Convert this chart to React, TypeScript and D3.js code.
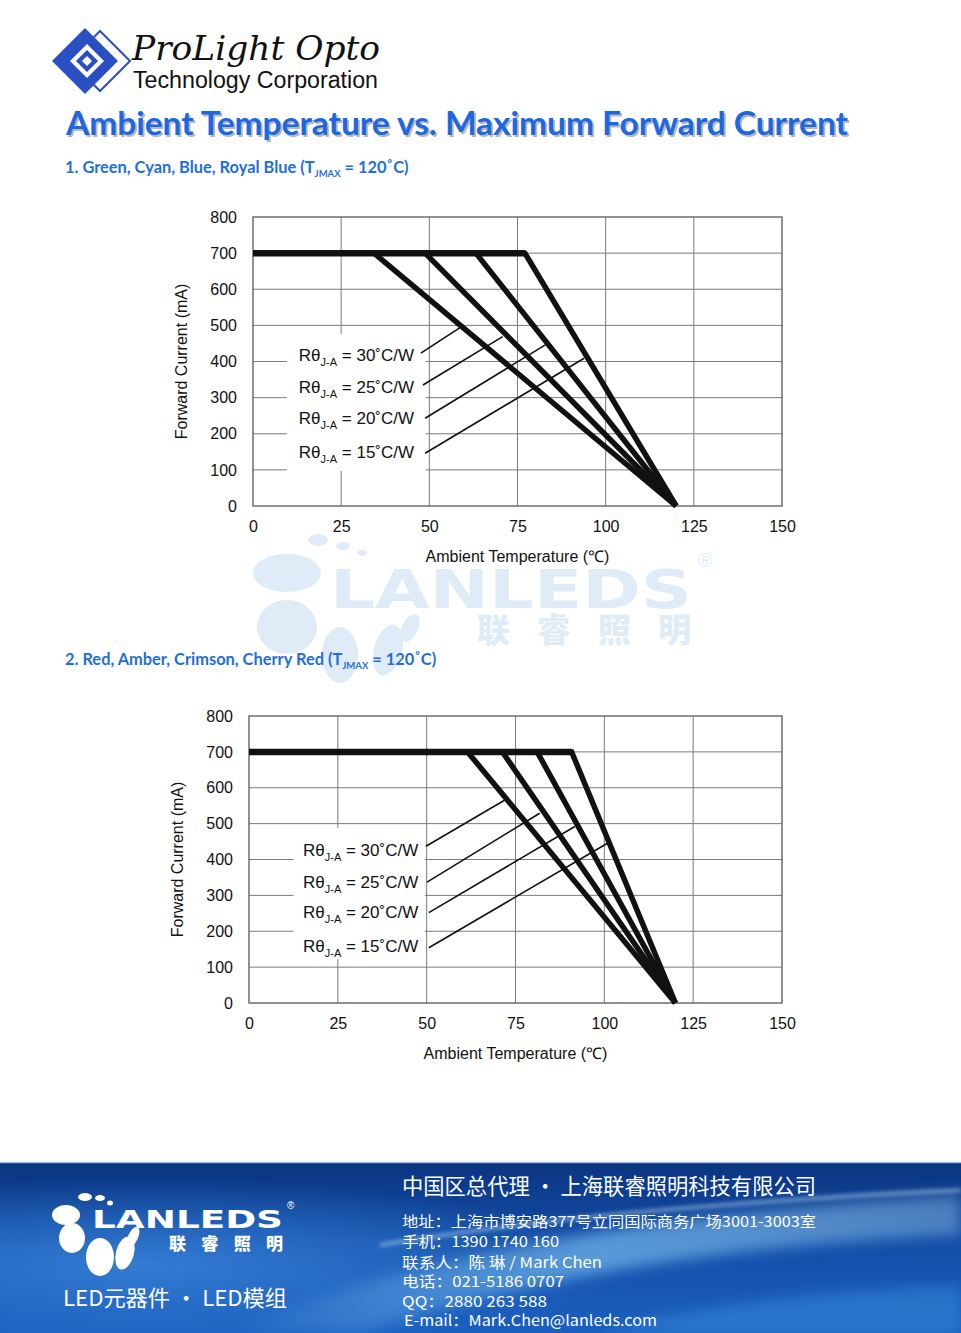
import { useEffect, useRef } from 'react';
import * as d3 from 'd3';

const xTicks = [0, 25, 50, 75, 100, 125, 150];
const yTicks = [0, 100, 200, 300, 400, 500, 600, 700, 800];
const maxCurrent = 700; // mA
const tjMax = 120; // °C, current reaches 0 here
const rthLabels = ['30', '25', '20', '15'];

// temperature (°C) where each Rθ curve leaves the 700 mA plateau
const kneesBlue = [34.3, 48.8, 63.2, 77.1];
const kneesRed = [61.5, 71.3, 81.1, 90.8];

// label centre heights (mA) and leader lines [x1, y1, x2, y2] in data units
const labelYBlue = [418, 330, 244, 150];
const labelYRed = [427, 336, 254, 159];
const leadersBlue = [
  [47.6, 423, 58.6, 493],
  [48.2, 335, 70.8, 469],
  [48.8, 243, 82.9, 446],
  [48.8, 146, 93.9, 409],
];
const leadersRed = [
  [49.8, 437, 71.9, 565],
  [50.1, 337, 81.8, 529],
  [50.6, 252, 91.7, 492],
  [50.6, 154, 101, 446],
];

const FONT = "'Liberation Sans', Arial, sans-serif";
const CJK = "'Noto Sans CJK SC', sans-serif";

type ChartCfg = {
  left: number; right: number; top: number; bottom: number;
  knees: number[]; labelY: number[]; leaders: number[][];
  labelX: number; box: number[]; // box = [x0, x1, y0, y1]
};

function drawChart(node: SVGGElement, cfg: ChartCfg) {
  const g = d3.select(node);
  g.selectAll('*').remove();

  const x = d3.scaleLinear().domain([0, 150]).range([cfg.left, cfg.right]);
  const y = d3.scaleLinear().domain([0, 800]).range([cfg.bottom, cfg.top]);

  // grid
  g.append('g').selectAll('line').data(xTicks.slice(1, -1)).join('line')
    .attr('x1', d => x(d)).attr('x2', d => x(d))
    .attr('y1', y(0)).attr('y2', y(800))
    .attr('stroke', '#7a7a7a').attr('stroke-width', 1);
  g.append('g').selectAll('line').data(yTicks.slice(1, -1)).join('line')
    .attr('x1', x(0)).attr('x2', x(150))
    .attr('y1', d => y(d)).attr('y2', d => y(d))
    .attr('stroke', '#7a7a7a').attr('stroke-width', 1);

  // white patch behind the Rθ labels
  g.append('rect')
    .attr('x', x(cfg.box[0])).attr('y', y(cfg.box[3]))
    .attr('width', x(cfg.box[1]) - x(cfg.box[0]))
    .attr('height', y(cfg.box[2]) - y(cfg.box[3]))
    .attr('fill', '#fff');

  // frame
  g.append('rect')
    .attr('x', x(0)).attr('y', y(800))
    .attr('width', x(150) - x(0)).attr('height', y(0) - y(800))
    .attr('fill', 'none').attr('stroke', '#6e6e6e').attr('stroke-width', 1.5);

  // axes
  const ax = g.append('g').attr('transform', `translate(${x(0)},0)`)
    .call(d3.axisLeft(y).tickValues(yTicks).tickSize(0).tickPadding(16));
  ax.select('.domain').remove();
  ax.attr('font-family', FONT).attr('font-size', 16);
  ax.selectAll('text').attr('fill', '#111');

  const bx = g.append('g').attr('transform', `translate(0,${y(0)})`)
    .call(d3.axisBottom(x).tickValues(xTicks).tickSize(0).tickPadding(15));
  bx.select('.domain').remove();
  bx.attr('font-family', FONT).attr('font-size', 16);
  bx.selectAll('text').attr('fill', '#111');

  g.append('text')
    .attr('transform', `translate(${x(0) - 66},${(y(0) + y(800)) / 2}) rotate(-90)`)
    .attr('text-anchor', 'middle')
    .attr('font-family', FONT).attr('font-size', 16).attr('fill', '#111')
    .text('Forward Current (mA)');

  g.append('text')
    .attr('x', (x(0) + x(150)) / 2).attr('y', y(0) + 56)
    .attr('text-anchor', 'middle')
    .attr('font-family', FONT).attr('font-size', 16).attr('fill', '#111')
    .text('Ambient Temperature (℃)');

  // derating curves
  const line = d3.line<number[]>().x(d => x(d[0])).y(d => y(d[1]));
  g.append('g').selectAll('path').data(cfg.knees).join('path')
    .attr('d', k => line([[0, maxCurrent], [k, maxCurrent], [tjMax, 0]]))
    .attr('fill', 'none').attr('stroke', '#111').attr('stroke-width', 5.5)
    .attr('stroke-linejoin', 'miter');
  g.append('line')
    .attr('x1', x(0)).attr('x2', x(d3.max(cfg.knees)!))
    .attr('y1', y(maxCurrent)).attr('y2', y(maxCurrent))
    .attr('stroke', '#111').attr('stroke-width', 6.5);

  // leader lines
  g.append('g').selectAll('line').data(cfg.leaders).join('line')
    .attr('x1', d => x(d[0])).attr('y1', d => y(d[1]))
    .attr('x2', d => x(d[2])).attr('y2', d => y(d[3]))
    .attr('stroke', '#111').attr('stroke-width', 1.6);

  // labels
  const lab = g.append('g').selectAll('text').data(rthLabels).join('text')
    .attr('x', x(cfg.labelX))
    .attr('y', (_, i) => y(cfg.labelY[i]) + 6)
    .attr('font-family', FONT).attr('font-size', 17).attr('fill', '#111');
  lab.append('tspan').text('Rθ');
  lab.append('tspan').attr('font-size', 11).attr('dy', 5).text('J-A');
  lab.append('tspan').attr('dy', -5).text(d => ` = ${d}˚C/W`);
}

function Subtitle({ y, text }: { y: number; text: string }) {
  return (
    <text x={65} y={y} fontFamily="Lato, 'Open Sans', sans-serif" fontWeight={700}
      fontSize={16.4} fill="#1f6fd6">
      {text}
      <tspan fontSize={9.5} dy={4}>JMAX</tspan>
      <tspan dy={-4}> = 120˚C)</tspan>
    </text>
  );
}

export default function App() {
  const c1 = useRef<SVGGElement>(null);
  const c2 = useRef<SVGGElement>(null);

  useEffect(() => {
    if (c1.current) drawChart(c1.current, {
      left: 253, right: 782, top: 217, bottom: 506,
      knees: kneesBlue, labelY: labelYBlue, leaders: leadersBlue,
      labelX: 13, box: [9.6, 49, 97, 476],
    });
    if (c2.current) drawChart(c2.current, {
      left: 249, right: 782, top: 716, bottom: 1003,
      knees: kneesRed, labelY: labelYRed, leaders: leadersRed,
      labelX: 15.2, box: [12.5, 49.5, 122, 488],
    });
  }, []);

  const wm = '#dfecf8';

  return (
    <svg width={961} height={1333} style={{ position: 'absolute', left: 0, top: 0 }}>
      <defs>
        <linearGradient id="ftbg" x1="0" y1="0" x2="0" y2="1">
          <stop offset="0" stopColor="#0a347f" />
          <stop offset="0.4" stopColor="#124aa3" />
          <stop offset="1" stopColor="#1b60c0" />
        </linearGradient>
        <radialGradient id="ftglow" cx="0.15" cy="0.6" r="0.5">
          <stop offset="0" stopColor="#3a86dc" stopOpacity="0.8" />
          <stop offset="1" stopColor="#3a86dc" stopOpacity="0" />
        </radialGradient>
        <linearGradient id="streak" x1="0" y1="0" x2="1" y2="0">
          <stop offset="0" stopColor="#9fe0ff" stopOpacity="0" />
          <stop offset="0.5" stopColor="#8fd6ff" stopOpacity="0.55" />
          <stop offset="1" stopColor="#b5e6ff" stopOpacity="0.35" />
        </linearGradient>
        <filter id="blur"><feGaussianBlur stdDeviation="7" /></filter>
        <filter id="blur2"><feGaussianBlur stdDeviation="2" /></filter>
      </defs>
      <rect width={961} height={1333} fill="#fff" />

      {/* logo */}
      <polygon points="52,61 85,28 118,61 85,94" fill="#2a4fc3" />
      <polygon points="70,61 100,31 130,61 100,91" fill="none" stroke="#2a4fc3" strokeWidth={2} />
      <polygon points="70,61 87,44 104,61 87,78" fill="#fff" />
      <polygon points="76,61 87,50 98,61 87,72" fill="#2a4fc3" />
      <polygon points="82,61 87,56 92,61 87,66" fill="#fff" />
      <text x={132} y={60} fontFamily="'DejaVu Serif', serif" fontStyle="italic" fontSize={34}
        textLength={248} lengthAdjust="spacingAndGlyphs" fill="#111">ProLight  Opto</text>
      <text x={133} y={88} fontFamily={FONT} fontSize={23} textLength={245}
        lengthAdjust="spacingAndGlyphs" fill="#111">Technology Corporation</text>

      {/* title */}
      <text x={68} y={137} fontFamily="Lato, 'Open Sans', sans-serif" fontWeight={700} fontSize={32}
        textLength={782} lengthAdjust="spacingAndGlyphs" fill="#8a8a8a" opacity={0.6}>
        Ambient Temperature vs. Maximum Forward Current</text>
      <text x={66} y={135} fontFamily="Lato, 'Open Sans', sans-serif" fontWeight={700} fontSize={32}
        textLength={782} lengthAdjust="spacingAndGlyphs" fill="#1c68e4">
        Ambient Temperature vs. Maximum Forward Current</text>

      {/* watermark */}
      <g fill={wm}>
        <ellipse cx={287} cy={573} rx={34} ry={19} />
        <ellipse cx={287} cy={627} rx={30} ry={27} />
        <ellipse cx={340} cy={655} rx={18} ry={28} />
        <ellipse cx={388} cy={650} rx={14} ry={26} transform="rotate(15 388 650)" />
        <ellipse cx={410} cy={628} rx={8} ry={15} transform="rotate(25 410 628)" />
        <ellipse cx={318} cy={540} rx={10} ry={6} />
        <ellipse cx={343} cy={546} rx={7} ry={4} />
        <ellipse cx={362} cy={553} rx={5} ry={3} />
        <text x={330} y={608} fontFamily="'DejaVu Sans', sans-serif" fontWeight={700} fontSize={54}
          textLength={362} lengthAdjust="spacingAndGlyphs">LANLEDS</text>
        <text x={477} y={642} fontFamily={CJK} fontWeight={900} fontSize={33}
          textLength={214} lengthAdjust="spacing">联睿照明</text>
        <text x={698} y={567} fontFamily={FONT} fontSize={20}>®</text>
      </g>

      <Subtitle y={173} text="1. Green, Cyan, Blue, Royal Blue (T" />
      <Subtitle y={665} text="2. Red, Amber, Crimson, Cherry Red (T" />

      <g ref={c1} />
      <g ref={c2} />

      {/* footer */}
      <rect x={0} y={1162} width={961} height={171} fill="url(#ftbg)" />
      <rect x={0} y={1162} width={961} height={171} fill="url(#ftglow)" />
      <path d="M 230 1333 C 420 1250 650 1215 961 1195 L 961 1235 C 700 1245 480 1290 360 1333 Z"
        fill="url(#streak)" filter="url(#blur)" />
      <path d="M 380 1245 C 560 1215 760 1200 961 1190" fill="none" stroke="#cdefff"
        strokeOpacity={0.6} strokeWidth={3} filter="url(#blur2)" />
      <path d="M 600 1333 C 720 1300 850 1290 961 1285 L 961 1333 Z" fill="#4aa3ea" opacity={0.35}
        filter="url(#blur)" />
      <line x1={0} x2={961} y1={1162.5} y2={1162.5} stroke="#9cc0ea" strokeWidth={1.5} />

      <g fill="#fff">
        <ellipse cx={66} cy={1215} rx={14} ry={10} />
        <ellipse cx={72} cy={1238} rx={13} ry={15} />
        <ellipse cx={100} cy={1257} rx={14} ry={19} />
        <ellipse cx={125} cy={1253} rx={9} ry={17} transform="rotate(15 125 1253)" />
        <ellipse cx={133} cy={1237} rx={5} ry={11} transform="rotate(25 133 1237)" />
        <ellipse cx={85} cy={1197} rx={7} ry={4} />
        <ellipse cx={100} cy={1198} rx={5} ry={3} />
        <ellipse cx={110} cy={1203} rx={3} ry={2.5} />
        <text x={92} y={1228} fontFamily="'DejaVu Sans', sans-serif" fontWeight={700} fontSize={25}
          textLength={191} lengthAdjust="spacingAndGlyphs">LANLEDS</text>
        <text x={169} y={1250} fontFamily={CJK} fontWeight={900} fontSize={17}
          textLength={114} lengthAdjust="spacing">联睿照明</text>
        <text x={287} y={1209} fontFamily={FONT} fontSize={10}>®</text>
        <text x={63} y={1306} fontFamily={CJK} fontSize={22} textLength={224}
          lengthAdjust="spacingAndGlyphs">LED元器件 · LED模组</text>

        <text x={402} y={1194} fontFamily={CJK} fontSize={22} textLength={414}
          lengthAdjust="spacingAndGlyphs">中国区总代理 · 上海联睿照明科技有限公司</text>
        <g fontFamily={CJK} fontSize={15}>
          <text x={402} y={1227} textLength={414} lengthAdjust="spacingAndGlyphs">地址：上海市博安路377号立同国际商务广场3001-3003室</text>
          <text x={402} y={1247} textLength={157} lengthAdjust="spacingAndGlyphs">手机：1390 1740 160</text>
          <text x={402} y={1268} textLength={200} lengthAdjust="spacingAndGlyphs">联系人：陈 琳 / Mark Chen</text>
          <text x={402} y={1287} textLength={162} lengthAdjust="spacingAndGlyphs">电话：021-5186 0707</text>
          <text x={402} y={1307} textLength={145} lengthAdjust="spacingAndGlyphs">QQ：2880 263 588</text>
          <text x={404} y={1326} textLength={253} lengthAdjust="spacingAndGlyphs">E-mail：Mark.Chen@lanleds.com</text>
        </g>
      </g>
    </svg>
  );
}
